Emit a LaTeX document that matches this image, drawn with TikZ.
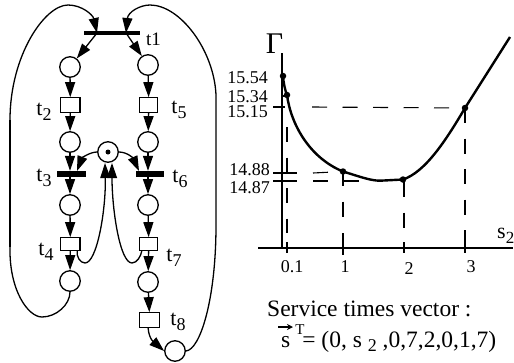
\documentclass[tikz,border=0pt]{standalone}
\usepackage{fontspec}
\setmainfont{Liberation Serif}
\usetikzlibrary{arrows.meta}
\newcommand{\lowsub}[1]{\raisebox{-5pt}{\fontsize{18}{18}\selectfont #1}}
\tikzset{
 x=1pt,y=-1pt,
 place/.style={circle,draw,line width=1.3pt,minimum size=20.5pt,inner sep=0pt,fill=white},
 tbox/.style={rectangle,draw,line width=1.2pt,fill=white,inner sep=0pt},
 tbar/.style={rectangle,fill=black,inner sep=0pt},
 arr/.style={line width=1.3pt,-{Triangle[length=15pt,width=10pt]}},
 wire/.style={line width=1.3pt},
 lbl/.style={inner sep=0pt,font=\fontsize{22}{22}\selectfont},
 textline/.style={inner sep=0pt,anchor=base west,font=\fontsize{23.5}{23.5}\selectfont},
 ticklbl/.style={inner sep=0pt,font=\fontsize{18}{18}\selectfont,anchor=east},
 dashline/.style={line width=1.1pt,dash pattern=on 15pt off 15.5pt},
 solidbit/.style={line width=1.1pt},
 dotmark/.style={circle,fill=black,inner sep=0pt,minimum size=6.5pt},
}
\begin{document}
\begin{tikzpicture}
\useasboundingbox (0,0) rectangle (514,362);
% net
\node[tbar,minimum width=56pt,minimum height=4pt] (t1) at (112,33) {};
\node[place] (p1) at (70,67) {};
\node[place] (p5) at (148,65) {};
\node[tbox,minimum width=19.5pt,minimum height=14.5pt] (t2) at (70.3,105) {};
\node[tbox,minimum width=18pt,minimum height=14.5pt] (t5) at (148.8,105) {};
\node[place] (p2) at (70,142) {};
\node[place] (p6) at (148,142) {};
\node[place] (pc) at (108,152) {};
\node[circle,fill=black,inner sep=0pt,minimum width=5pt,minimum height=4pt] (tok) at (108,152) {};
\node[tbar,minimum width=29pt,minimum height=6pt] (t3) at (71.5,174) {};
\node[tbar,minimum width=28pt,minimum height=6pt] (t6) at (150,174) {};
\node[place] (p3) at (70,205) {};
\node[place] (p7) at (148,205) {};
\node[tbox,minimum width=19.5pt,minimum height=12.5pt] (t4) at (70.3,244) {};
\node[tbox,minimum width=18pt,minimum height=12.5pt] (t7) at (148.8,244) {};
\node[place] (p4) at (70,281) {};
\node[place] (p8) at (148,282) {};
\node[tbox,minimum width=20pt,minimum height=14.5pt] (t8) at (149.7,320) {};
\node[place] (p9) at (175,351) {};
\coordinate (t1l) at (97,33);
\coordinate (t1r) at (126,33);
\draw[arr] (t1l) -- (p1);
\draw[arr] (t1r) -- (p5);
\draw[arr] (p1) -- (t2);
\draw[arr] (p5) -- (t5);
\draw[arr] (t2) -- (p2);
\draw[arr] (t5) -- (p6);
\draw[arr] (p2.south) -- (p2.south |- t3.north);
\draw[arr] (p6.south) -- (p6.south |- t6.north);
\draw[arr] (t3.south -| p3) -- (p3.north);
\draw[arr] (t6.south -| p7) -- (p7.north);
\draw[arr] (p3) -- (t4);
\draw[arr] (p7) -- (t7);
\draw[arr] (t4) -- (p4);
\draw[arr] (t7) -- (p8);
\draw[arr] (p8) -- (t8);
\draw[arr] (t8.south west) ++(9,0) .. controls (149,340) and (155,343) .. (p9.west);
\draw[arr] (pc.west) .. controls (90,152) and (82,158) .. (77,171);
\draw[arr] (pc.east) .. controls (127,152) and (133,158) .. (139,171);
% return arcs
\coordinate (la) at (10,120);
\coordinate (lb) at (10,247);
\draw[arr] (la) .. controls (10,55) and (45,5) .. (68,5) .. controls (82,5) and (93,15) .. (t1l);
\draw[wire] (la) -- (lb);
\draw[wire] (lb) .. controls (9,290) and (28,317) .. (42,317) .. controls (56,317) and (70,305) .. (p4.south);
\draw[arr] (p9.east) .. controls (200,350) and (216,300) .. (216,225) -- (216,95) .. controls (214,50) and (180,5) .. (150,5) .. controls (140,5) and (128,12) .. (t1r);
\draw[arr] ([xshift=7pt]t4.south) .. controls (76,256) and (80,263) .. (85,263) .. controls (97,263) and (106,210) .. (105,163);
\draw[arr] ([xshift=-7pt]t7.south) .. controls (141,256) and (137,263) .. (132,263) .. controls (120,263) and (112,210) .. (112,163);
% labels
\node[lbl,font=\fontsize{19}{19}\selectfont] (lt1) at (153.5,39) {t1};
\node[lbl] (lt2) at (44,112) {t\lowsub{2}};
\node[lbl] (lt5) at (179,110) {t\lowsub{5}};
\node[lbl] (lt3) at (44,178) {t\lowsub{3}};
\node[lbl] (lt6) at (180,179) {t\lowsub{6}};
\node[lbl] (lt4) at (46,252) {t\lowsub{4}};
\node[lbl] (lt7) at (174,258) {t\lowsub{7}};
\node[lbl] (lt8) at (178,322) {t\lowsub{8}};
% plot
\coordinate (yt) at (282,53);
\coordinate (yb) at (282,248);
\coordinate (xl) at (258,248);
\coordinate (xr) at (513,248);
\draw[line width=1.2pt] (yt) -- (yb);
\draw[line width=1.7pt] (xl) -- (xr);
\node[inner sep=0pt,font=\fontsize{30}{30}\selectfont] (gam) at (274.5,44) {Γ};
\node[dotmark] (d1) at (283,76) {};
\node[dotmark] (d2) at (287,95) {};
\node[dotmark] (d3) at (343,171.5) {};
\node[dotmark] (d4) at (403,179.5) {};
\node[dotmark] (d5) at (465,108) {};
\draw[line width=2.4pt] (d1.center) .. controls (283.5,83) and (285,90) .. (d2.center)
 .. controls (291,125) and (310,158) .. (d3.center)
 .. controls (358,176) and (370,180.7) .. (380,180.7) -- (d4.center)
 .. controls (425,172) and (445,142) .. (d5.center) -- (510,37);
\draw[dashline] (287,127) -- (287,233);
\draw[solidbit] (287,242) -- (287,253);
\draw[dashline] (343,171) -- (343,217);
\draw[solidbit] (343,233) -- (343,255);
\draw[dashline] (404,182) -- (404,228);
\draw[solidbit] (404,242) -- (404,253);
\draw[dashline] (465,108) -- (465,215);
\draw[solidbit] (465,230) -- (465,253);
\draw[line width=1.2pt] (273,107) -- (285,107);
\draw[line width=1.1pt] (282,96) -- (288,96);
\draw[line width=1.2pt] (273,173) -- (297,173);
\draw[line width=1.2pt] (273,181) -- (297,181);
\draw[dashline] (312,107) -- (d5.center);
\draw[dashline] (313,173) -- (d3.center);
\draw[dashline] (313,181) -- (360,181);
\node[ticklbl] (n1) at (268,78) {15.54};
\node[ticklbl] (n2) at (268,96.5) {15.34};
\node[ticklbl] (n3) at (268,111.5) {15.15};
\node[ticklbl] (n4) at (270,170) {14.88};
\node[ticklbl] (n5) at (270,188) {14.87};
\node[ticklbl,anchor=center] (x1) at (292,267) {0.1};
\node[ticklbl,anchor=center] (x2) at (345,267) {1};
\node[ticklbl,anchor=center] (x3) at (409,269) {2};
\node[ticklbl,anchor=center] (x4) at (471,267) {3};
\node[lbl,anchor=base west] (s2) at (497,238) {s{\fontsize{17}{17}\selectfont\raisebox{-5pt}{2}}};
\node[textline] (tx1) at (267,316) {Service times vector :};
\node[textline] (tx2) at (281,347) {s\kern5pt\rlap{\raisebox{13pt}{\fontsize{15}{15}\selectfont T}}\kern7pt= (0, s {\fontsize{18}{18}\selectfont\raisebox{-4pt}{2}} ,0,7,2,0,1,7)};
\coordinate (va) at (278,327);
\coordinate (vb) at (293,327);
\draw[line width=1.2pt,-{Stealth[length=6pt,width=6pt]}] (va) -- (vb);
\end{tikzpicture}
\end{document}
